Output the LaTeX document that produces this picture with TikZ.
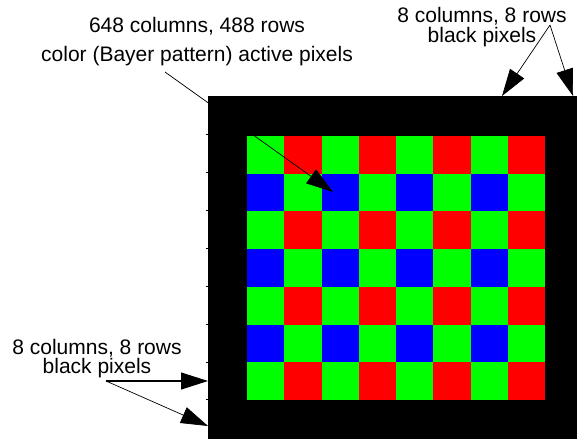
\documentclass[tikz,border=0pt]{standalone}
\usepackage{fontspec}
\setmainfont{Liberation Sans}
\usetikzlibrary{arrows.meta}

\definecolor{pix0}{RGB}{0,255,0}
\definecolor{pix1}{RGB}{255,0,0}
\definecolor{pix2}{RGB}{0,0,255}
\definecolor{pix3}{RGB}{0,255,0}

\begin{document}
\begin{tikzpicture}[x=1pt,y=-1pt,
  lbl/.style={font=\fontsize{21}{21}\selectfont,anchor=base,inner sep=0pt,align=center},
  leader/.style={line width=0.7pt,-{Triangle[length=27pt,width=17pt]}}]
\useasboundingbox (0,0) rectangle (577,439);
% black border pixels
\fill[black] (208,96) rectangle (577,439);
\foreach \y in {134,172.5,210,248,286,324,362,399}
  \draw[line width=1pt] (205.5,\y) -- (208,\y);
% active pixels, Bayer pattern
\foreach \r in {0,...,6}{
  \foreach \c in {0,...,7}{
    \pgfmathtruncatemacro\k{mod(\r,2)*2+mod(\c,2)}
    \fill[pix\k] (247+37.25*\c,136+37.7*\r) rectangle +(37.25,37.7);
  }
}
% labels (anchored at the last line)
\node[lbl] (active) at (197,61) {648 columns, 488 rows\\[7.5pt]color (Bayer pattern) active pixels};
\node[lbl] (rightblack) at (482,42) {8 columns, 8 rows\\[-1.5pt]black pixels};
\node[lbl] (leftblack) at (97,373.5) {8 columns, 8 rows\\[-1.5pt]black pixels};
% arrows
\coordinate (activefoot) at (165,72);
\coordinate (activetip) at (333,192);
\coordinate (rightfoot) at (550,25);
\coordinate (righttipa) at (502,96);
\coordinate (righttipb) at (573,96);
\coordinate (leftfoot) at (106,381);
\coordinate (lefttipa) at (208,381);
\coordinate (lefttipb) at (208,426);
\draw[leader] (activefoot) -- (activetip);
\draw[leader] (rightfoot) -- (righttipa);
\draw[leader] (rightfoot) -- (righttipb);
\draw[leader,line width=1.2pt] (leftfoot) -- (lefttipa);
\draw[leader] (leftfoot) -- (lefttipb);
\end{tikzpicture}
\end{document}
